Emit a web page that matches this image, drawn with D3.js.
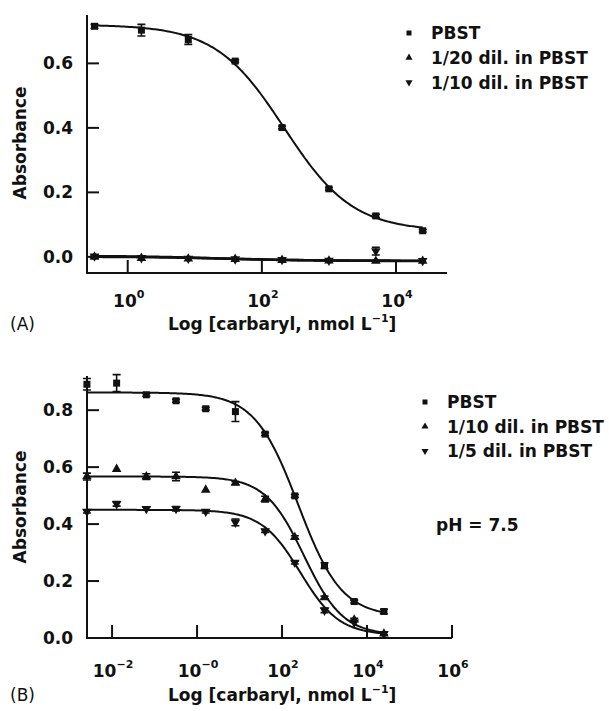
<!DOCTYPE html>
<html><head><meta charset="utf-8">
<script src="https://cdn.jsdelivr.net/npm/d3@7"></script>
<style>
html,body{margin:0;padding:0;background:#fff;}
text{font-family:"DejaVu Sans",sans-serif;font-weight:bold;fill:#111;}
</style></head>
<body><svg id="c" width="609" height="711"></svg>
<script>
// ---------- Panel A data ----------
const concA = [0.32, 1.6, 8, 40, 200, 1000, 5000, 25000];
const pbstA = [0.715, 0.703, 0.674, 0.607, 0.401, 0.211, 0.127, 0.081];
const pbstAErr = [0.006, 0.018, 0.015, 0.004, 0.004, 0.004, 0.005, 0.004];
const dil20A = [0.0, -0.004, -0.006, -0.007, -0.010, -0.012, -0.013, -0.013];
const dil20AErr = [0.004, 0, 0, 0, 0, 0, 0, 0];
const dil10A = [0.002, -0.003, -0.005, -0.007, -0.009, -0.011, 0.018, -0.012];
const dil10AErr = [0.004, 0, 0, 0, 0, 0, 0.012, 0];
// 4-parameter logistic fits [top, bottom, IC50, slope]
const fitPbstA = [0.72, 0.08, 215, 0.85];
const fitDil20A = [0.001, -0.013, 40, 0.6];
const fitDil10A = [0.003, -0.012, 20, 0.7];
const legendA = ["PBST", "1/20 dil. in PBST", "1/10 dil. in PBST"];
const yTicksA = [0.0, 0.2, 0.4, 0.6];
const xTicksA = [1, 100, 10000];
const xTickLabelsA = ["0", "2", "4"];

// ---------- Panel B data ----------
const concB = [0.00256, 0.0128, 0.064, 0.32, 1.6, 8, 40, 200, 1000, 5000, 25000];
const pbstB = [0.891, 0.895, 0.854, 0.833, 0.805, 0.795, 0.716, 0.499, 0.254, 0.128, 0.093];
const pbstBErr = [0.02, 0.03, 0.005, 0.005, 0.005, 0.035, 0.005, 0.005, 0.01, 0.005, 0.008];
const dil10B = [0.567, 0.593, 0.567, 0.567, 0.52, 0.544, 0.488, 0.354, 0.142, 0.064, 0.015];
const dil10BErr = [0.012, 0, 0.01, 0.015, 0, 0.005, 0.01, 0.005, 0.005, 0.005, 0.005];
const dil5B = [0.444, 0.471, 0.454, 0.454, 0.444, 0.406, 0.376, 0.265, 0.097, 0.055, 0.015];
const dil5BErr = [0.005, 0.008, 0.005, 0.008, 0.005, 0.012, 0.005, 0.005, 0.008, 0, 0.005];
const fitPbstB = [0.862, 0.075, 240, 0.85];
const fitDil10B = [0.567, 0.01, 330, 0.95];
const fitDil5B = [0.45, 0.01, 270, 0.95];
const legendB = ["PBST", "1/10 dil. in PBST", "1/5 dil. in PBST"];
const yTicksB = [0.2, 0.4, 0.6, 0.8];
const yLabelsB = [0.0, 0.2, 0.4, 0.6, 0.8];
const xTicksB = [0.01, 1, 100, 10000, 1000000];
const xTickLabelsB = ["\u22122", "\u22120", "2", "4", "6"];

const svg = d3.select("#c");
const logistic = (p, x) => p[1] + (p[0] - p[1]) / (1 + Math.pow(x / p[2], p[3]));

function panel(cfg) {
  const g = svg.append("g");
  const x = d3.scaleLog().domain(cfg.xDomain).range(cfg.xRange);
  const y = d3.scaleLinear().domain(cfg.yDomain).range(cfg.yRange);
  const [x0, x1] = cfg.xRange, [yb, yt] = cfg.yRange;
  g.append("path").attr("d", `M${x0},${yt}V${yb}H${x1}`)
    .attr("fill", "none").attr("stroke", "#111").attr("stroke-width", 2);
  cfg.yTicks.forEach(v => {
    g.append("line").attr("x1", x0).attr("x2", x0 + 12).attr("y1", y(v)).attr("y2", y(v))
      .attr("stroke", "#111").attr("stroke-width", 2);
  });
  cfg.yLabels.forEach(v => {
    g.append("text").attr("x", x0 - 14).attr("y", y(v)).attr("dy", "0.36em")
      .attr("text-anchor", "end").attr("font-size", 17).text(d3.format(".1f")(v));
  });
  cfg.xTicks.forEach((v, i) => {
    g.append("line").attr("x1", x(v)).attr("x2", x(v)).attr("y1", yb).attr("y2", yb - 13)
      .attr("stroke", "#111").attr("stroke-width", 2);
    const t = g.append("text").attr("x", x(v) + 1).attr("y", cfg.tickBase)
      .attr("text-anchor", "middle").attr("font-size", 17);
    t.append("tspan").text("10");
    t.append("tspan").attr("dy", -9).attr("font-size", 11).text(cfg.xTickLabels[i]);
  });
  g.append("text").attr("transform", `translate(26,${cfg.yTitleY}) rotate(-90)`)
    .attr("text-anchor", "middle").attr("font-size", 17).text("Absorbance");
  const xl = g.append("text").attr("x", 168).attr("y", cfg.titleBase).attr("font-size", 17);
  xl.append("tspan").text("Log [carbaryl, nmol L");
  xl.append("tspan").attr("dy", -8).attr("font-size", 11).text("\u22121");
  xl.append("tspan").attr("dy", 8).text("]");
  g.append("text").attr("x", 10).attr("y", cfg.titleBase).attr("font-size", 17)
    .style("font-weight", "normal").text(cfg.tag);

  const line = d3.line().x(d => x(d[0])).y(d => y(d[1]));
  cfg.series.forEach(s => {
    const lo = Math.log10(d3.min(s.conc)), hi = Math.log10(d3.max(s.conc));
    const pts = d3.range(0, 201).map(i => {
      const c = Math.pow(10, lo + (hi - lo) * i / 200);
      return [c, logistic(s.fit, c)];
    });
    g.append("path").attr("d", line(pts)).attr("fill", "none")
      .attr("stroke", "#111").attr("stroke-width", s.lw || 2);
  });
  cfg.series.forEach(s => {
    s.vals.forEach((v, i) => {
      const cx = x(s.conc[i]), cy = y(v), e = s.err[i];
      if (e > 0) {
        g.append("path")
          .attr("d", `M${cx - 4},${y(v + e)}H${cx + 4}M${cx},${y(v + e)}V${y(v - e)}M${cx - 4},${y(v - e)}H${cx + 4}`)
          .attr("stroke", "#111").attr("stroke-width", 1.6).attr("fill", "none");
      }
      g.append("path").attr("d", d3.symbol().type(s.sym).size(s.size)())
        .attr("transform", `translate(${cx},${cy})${s.inv ? " rotate(180)" : ""}`)
        .attr("fill", "#111");
    });
  });
  cfg.legend.forEach((name, i) => {
    const s = cfg.series[i];
    const ly = cfg.legY + i * cfg.legStep;
    g.append("path").attr("d", d3.symbol().type(s.sym).size(s.legSize)())
      .attr("transform", `translate(${cfg.legX},${ly})${s.inv ? " rotate(180)" : ""}`)
      .attr("fill", "#111");
    g.append("text").attr("x", cfg.legX + 22).attr("y", ly).attr("dy", "0.36em")
      .attr("font-size", 17).text(name);
  });
  return {x, y, g};
}

panel({
  xDomain: [Math.pow(10, -0.607), Math.pow(10, 4.76)], xRange: [87, 447],
  yDomain: [-0.05, 0.75], yRange: [273, 15],
  yTicks: yTicksA, yLabels: yTicksA, xTicks: xTicksA, xTickLabels: xTickLabelsA,
  tickBase: 307, titleBase: 330, yTitleY: 143, tag: "(A)",
  legX: 409, legY: 33, legStep: 24.7, legend: legendA,
  series: [
    {conc: concA, vals: pbstA, err: pbstAErr, fit: fitPbstA, sym: d3.symbolSquare, size: 49, legSize: 25},
    {conc: concA, vals: dil20A, err: dil20AErr, fit: fitDil20A, sym: d3.symbolTriangle, size: 40, legSize: 22, lw: 2.6},
    {conc: concA, vals: dil10A, err: dil10AErr, fit: fitDil10A, sym: d3.symbolTriangle, size: 40, legSize: 22, inv: true, lw: 2.6}
  ]
});

const pB = panel({
  xDomain: [Math.pow(10, -2.59), 1e6], xRange: [87, 452],
  yDomain: [0, 0.92], yRange: [638, 376],
  yTicks: yTicksB, yLabels: yLabelsB, xTicks: xTicksB, xTickLabels: xTickLabelsB,
  tickBase: 677, titleBase: 701, yTitleY: 507, tag: "(B)",
  legX: 425, legY: 402, legStep: 24.5, legend: legendB,
  series: [
    {conc: concB, vals: pbstB, err: pbstBErr, fit: fitPbstB, sym: d3.symbolSquare, size: 49, legSize: 25},
    {conc: concB, vals: dil10B, err: dil10BErr, fit: fitDil10B, sym: d3.symbolTriangle, size: 40, legSize: 22},
    {conc: concB, vals: dil5B, err: dil5BErr, fit: fitDil5B, sym: d3.symbolTriangle, size: 40, legSize: 22, inv: true}
  ]
});
pB.g.append("text").attr("x", 436).attr("y", 531).attr("font-size", 17).text("pH = 7.5");
</script></body></html>
